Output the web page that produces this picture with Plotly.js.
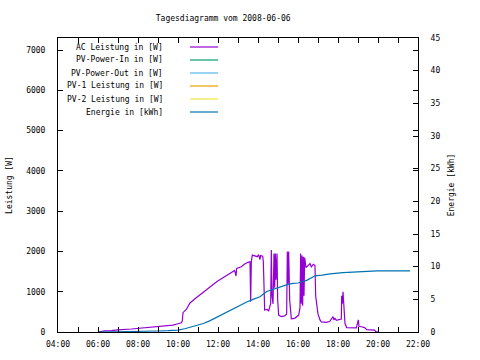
<!DOCTYPE html>
<html>
<head>
<meta charset="utf-8">
<script src="https://cdn.plot.ly/plotly-3.0.1.min.js"></script>
<style>html,body{margin:0;padding:0;background:#fff}#chart{width:480px;height:360px}</style>
</head>
<body>
<div id="chart"></div>
<script>
const DAY = '2008-06-06 ';
const seriesNames = ['AC Leistung in [W]', 'PV-Power-In in [W]', 'PV-Power-Out in [W]', 'PV-1 Leistung in [W]', 'PV-2 Leistung in [W]', 'Energie in [kWh]'];
const seriesColors = ['#9400D3', '#009E73', '#56B4E9', '#E69F00', '#F0E442', '#0072B2'];
const xTickLabels = ['04:00','06:00','08:00','10:00','12:00','14:00','16:00','18:00','20:00','22:00'];

const acTime = ['06:00','06:05','06:20','06:40','07:00','07:40','08:00','08:30','09:00','09:25','09:45','10:00','10:10','10:13','10:15','10:25','10:36','10:50','11:05','11:16','11:30','11:45','11:56','12:10','12:25','12:36','12:50','12:54','12:56','13:10','13:20','13:30','13:36','13:38','13:40','13:43','13:50','13:58','14:02','14:06','14:08','14:14','14:16','14:18','14:20','14:28','14:32','14:36','14:38','14:40','14:42','14:45','14:48','14:50','14:52','14:54','14:57','14:59','15:02','15:10','15:20','15:26','15:28','15:30','15:32','15:35','15:40','15:50','15:56','16:02','16:06','16:08','16:10','16:12','16:14','16:16','16:18','16:20','16:24','16:30','16:36','16:40','16:46','16:51','16:53','16:56','17:00','17:06','17:10','17:25','17:35','17:41','17:45','17:48','17:51','17:55','18:05','18:10','18:11','18:13','18:15','18:17','18:18','18:21','18:26','18:40','18:55','19:01','19:03','19:10','19:20','19:26','19:40','19:50','19:53','20:00'];
const acPower = [0,10,30,35,55,75,90,115,125,150,170,205,230,280,480,560,720,820,920,1000,1070,1170,1250,1320,1400,1455,1530,1390,1580,1620,1690,1730,1745,750,1750,1910,1900,1870,1920,1800,1900,1880,1750,1300,545,560,520,650,700,2035,900,700,1950,1100,1950,1300,1950,800,420,380,400,450,2000,1200,2000,800,330,340,380,420,600,1950,700,1900,650,1870,900,1850,1600,1650,1700,1620,1680,1650,900,700,450,300,250,240,260,330,380,300,340,290,300,320,900,700,1000,600,400,210,110,100,100,300,140,130,110,60,50,45,10,0];

const enTime = ['06:00','08:20','09:00','09:30','10:00','10:20','10:36','11:00','11:16','11:35','11:56','12:15','12:36','13:00','13:26','13:45','14:06','14:26','15:06','15:30','15:45','16:00','16:26','16:51','17:12','17:36','18:15','19:00','19:57','21:36'];
const enValue = [0,0.05,0.15,0.2,0.3,0.5,0.7,1.0,1.3,1.7,2.25,2.8,3.37,3.9,4.6,5.0,5.4,6.2,6.9,7.3,7.45,7.5,7.9,8.6,8.7,8.9,9.1,9.2,9.35,9.35];

const toDate = t => DAY + t;
const FONT = {family: '"DejaVu Sans Mono", "Liberation Mono", monospace', size: 8, color: '#000'};

const traces = [
  {x: acTime.map(toDate), y: acPower, name: seriesNames[0], type: 'scatter', mode: 'lines', line: {color: seriesColors[0], width: 1.2}, yaxis: 'y', showlegend: false},
  {x: [], y: [], name: seriesNames[1], type: 'scatter', mode: 'lines', line: {color: seriesColors[1], width: 1.2}, showlegend: false},
  {x: [], y: [], name: seriesNames[2], type: 'scatter', mode: 'lines', line: {color: seriesColors[2], width: 1.2}, showlegend: false},
  {x: [], y: [], name: seriesNames[3], type: 'scatter', mode: 'lines', line: {color: seriesColors[3], width: 1.2}, showlegend: false},
  {x: [], y: [], name: seriesNames[4], type: 'scatter', mode: 'lines', line: {color: seriesColors[4], width: 1.2}, showlegend: false},
  {x: enTime.map(toDate), y: enValue, name: seriesNames[5], type: 'scatter', mode: 'lines', line: {color: seriesColors[5], width: 1.2}, yaxis: 'y2', showlegend: false}
];

// manual gnuplot-style legend (text left, sample line right)
const annotations = [];
const shapes = [];
const rowTop = 47, rowStep = 13, plotTop = 38, plotH = 294, plotL = 58, plotW = 360;
seriesNames.forEach((n, i) => {
  const yPaper = 1 - ((rowTop + i * rowStep) - plotTop) / plotH;
  annotations.push({xref: 'paper', yref: 'paper', x: (165 - plotL) / plotW, y: yPaper, xanchor: 'right', yanchor: 'middle', text: n, showarrow: false, font: FONT});
  shapes.push({type: 'line', xref: 'paper', yref: 'paper', x0: (190 - plotL) / plotW, x1: (218 - plotL) / plotW, y0: yPaper, y1: yPaper, line: {color: seriesColors[i], width: 1.2}});
});

const layout = {
  width: 480, height: 360,
  margin: {l: 58, r: 62, t: 38, b: 28, pad: 0},
  paper_bgcolor: '#fff', plot_bgcolor: '#fff',
  font: FONT,
  showlegend: false,
  title: {text: 'Tagesdiagramm vom 2008-06-06', font: FONT, xref: 'container', yref: 'container', x: 0.465, xanchor: 'center', y: 0.95, yanchor: 'middle'},
  xaxis: {
    type: 'date', range: [toDate('04:00'), toDate('22:00')],
    tickmode: 'array', tickvals: xTickLabels.map(toDate), ticktext: xTickLabels,
    ticks: 'inside', ticklen: 5, tickcolor: '#000', ticklabelstandoff: 4,
    minor: {dtick: 3600000, tick0: toDate('04:00'), ticks: 'inside', ticklen: 3, tickcolor: '#000', showgrid: false},
    showline: true, linecolor: '#000', linewidth: 1, mirror: 'allticks',
    showgrid: false, zeroline: false, tickfont: FONT
  },
  yaxis: {
    range: [0, 7300], tick0: 0, dtick: 1000,
    ticks: 'inside', ticklen: 5, tickcolor: '#000', ticklabelstandoff: 10,
    showline: true, linecolor: '#000', linewidth: 1, mirror: 'allticks',
    showgrid: false, zeroline: false, tickfont: FONT,
    title: {text: 'Leistung [W]', font: FONT, standoff: 12}
  },
  yaxis2: {
    overlaying: 'y', side: 'right', range: [0, 45], tick0: 0, dtick: 5,
    ticks: 'inside', ticklen: 5, tickcolor: '#000', ticklabelstandoff: 10,
    showline: true, linecolor: '#000', linewidth: 1,
    showgrid: false, zeroline: false, tickfont: FONT,
    title: {text: 'Energie [kWh]', font: FONT, standoff: 8}
  },
  annotations: annotations,
  shapes: shapes
};

Plotly.newPlot('chart', traces, layout, {staticPlot: true, displayModeBar: false});
</script>
</body>
</html>
